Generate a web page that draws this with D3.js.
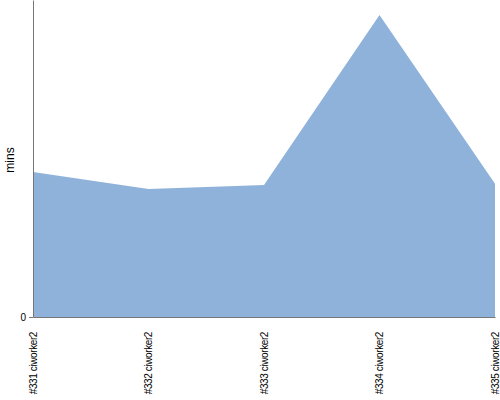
<!DOCTYPE html>
<html>
<head>
<meta charset="utf-8">
<script src="https://cdn.jsdelivr.net/npm/d3@7"></script>
<style>
  body { margin: 0; background: #fff; }
  svg { display: block; font-family: "Liberation Sans", Arial, sans-serif; }
</style>
</head>
<body>
<svg id="chart" width="500" height="400"></svg>
<script>
// builds and their durations in minutes
let builds = ["#331 ciworker2", "#332 ciworker2", "#333 ciworker2", "#334 ciworker2", "#335 ciworker2"];
let minutes = [9.15, 8.08, 8.33, 19.05, 8.4];
let yMax = 20;

let width = 500;
let height = 400;
let margin = {top: 0, right: 5, bottom: 83, left: 33};

let svg = d3.select("#chart");

let x = d3.scalePoint()
    .domain(builds)
    .range([margin.left, width - margin.right]);

let y = d3.scaleLinear()
    .domain([0, yMax])
    .range([height - margin.bottom, margin.top]);

let data = builds.map((b, i) => ({build: b, mins: minutes[i]}));

let area = d3.area()
    .x((d) => x(d.build))
    .y0(y(0))
    .y1((d) => y(d.mins));

svg.append("path")
    .datum(data)
    .attr("fill", "#8fb2db")
    .attr("d", area);

// y axis: just the line and the 0 tick
let yAxis = svg.append("g")
    .attr("transform", "translate(" + margin.left + ",0)")
    .call(d3.axisLeft(y).tickValues([0]).tickSizeInner(4).tickSizeOuter(0));
yAxis.select(".domain").attr("stroke", "#777");
yAxis.selectAll(".tick line").attr("stroke", "#777");
yAxis.selectAll(".tick text").attr("font-size", 10).attr("fill", "#000").attr("font-family", "Liberation Sans, Arial, sans-serif");

// x axis
let xAxis = svg.append("g")
    .attr("transform", "translate(0," + y(0) + ")")
    .call(d3.axisBottom(x).tickSize(0).tickSizeOuter(0).tickPadding(0));
xAxis.select(".domain").attr("stroke", "#777");
xAxis.selectAll(".tick text")
    .attr("font-size", 10)
    .attr("fill", "#000")
    .attr("letter-spacing", "-0.4px")
    .attr("font-family", "Liberation Sans, Arial, sans-serif")
    .attr("text-anchor", "end")
    .attr("dy", null)
    .attr("transform", "translate(3,15) rotate(-90)");

svg.append("text")
    .attr("transform", "translate(14," + 160 + ") rotate(-90)")
    .attr("text-anchor", "middle")
    .attr("font-size", 12)
    .text("mins");
</script>
</body>
</html>
